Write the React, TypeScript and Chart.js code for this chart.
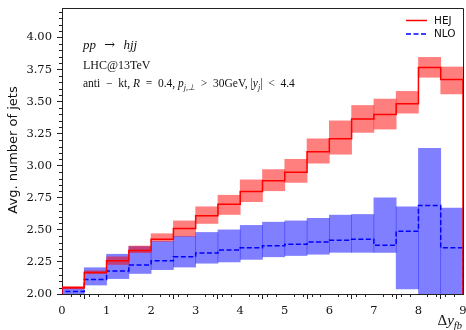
import { useEffect, useRef } from 'react';
import { Chart, registerables } from 'chart.js';

Chart.register(...registerables);

// Bin edges of Δy_fb
const binEdges = [0, 0.5, 1, 1.5, 2, 2.5, 3, 3.5, 4, 4.5, 5, 5.5, 6, 6.5, 7, 7.5, 8, 8.5, 9];

// HEJ central value and uncertainty band
const hej = [2.049, 2.167, 2.26, 2.34, 2.426, 2.51, 2.61, 2.70, 2.80, 2.883, 2.95, 3.11, 3.21, 3.364, 3.40, 3.483, 3.767, 3.673];
const hejLo = [2.04, 2.158, 2.23, 2.322, 2.41, 2.45, 2.55, 2.62, 2.72, 2.805, 2.87, 3.02, 3.09, 3.26, 3.286, 3.41, 3.69, 3.56];
const hejHi = [2.06, 2.18, 2.29, 2.374, 2.47, 2.57, 2.68, 2.77, 2.89, 2.97, 3.05, 3.21, 3.35, 3.47, 3.52, 3.58, 3.845, 3.77];

// NLO central value and uncertainty band
const nlo = [2.02, 2.113, 2.18, 2.226, 2.26, 2.29, 2.32, 2.343, 2.36, 2.377, 2.387, 2.405, 2.42, 2.426, 2.38, 2.49, 2.69, 2.36];
const nloLo = [2.0, 2.07, 2.12, 2.16, 2.19, 2.21, 2.24, 2.25, 2.27, 2.29, 2.30, 2.31, 2.325, 2.325, 2.325, 2.04, 1.9, 1.9];
const nloHi = [2.045, 2.205, 2.31, 2.37, 2.41, 2.45, 2.48, 2.50, 2.535, 2.56, 2.57, 2.59, 2.615, 2.62, 2.75, 2.68, 3.135, 2.67];

// Tick labels
const xTickValues = [0, 1, 2, 3, 4, 5, 6, 7, 8, 9];
const yTickValues = [2.0, 2.25, 2.5, 2.75, 3.0, 3.25, 3.5, 3.75, 4.0];
const xMinorStep = 0.2;
const yMinorStep = 0.05;

const SERIF = '"DejaVu Serif", serif';
const MATH = '"Liberation Serif", serif';
const SANS = '"DejaVu Sans", sans-serif';
const INK = '#111';
const AXIS = '#222';

type Seg = { t: string; it?: boolean; sub?: boolean; fam?: string };

function drawRich(ctx: CanvasRenderingContext2D, x: number, y: number, segs: Seg[], size: number, family: string, align: 'left' | 'right' = 'left') {
  const fontFor = (s: Seg) => `${s.it ? 'italic ' : ''}${s.sub ? size * 0.7 : size}px ${s.fam || family}`;
  let total = 0;
  for (const s of segs) {
    ctx.font = fontFor(s);
    total += ctx.measureText(s.t).width;
  }
  let cx = align === 'right' ? x - total : x;
  ctx.textAlign = 'left';
  ctx.textBaseline = 'alphabetic';
  for (const s of segs) {
    ctx.font = fontFor(s);
    ctx.fillText(s.t, cx, y + (s.sub ? size * 0.24 : 0));
    cx += ctx.measureText(s.t).width;
  }
}

const decorPlugin = {
  id: 'decor',
  afterDraw(chart: any) {
    const { ctx, chartArea } = chart;
    const { left, right, top, bottom } = chartArea;
    const xs = chart.scales.x;
    const ys = chart.scales.y;
    ctx.save();
    // frame top and right
    ctx.strokeStyle = AXIS;
    ctx.lineWidth = 1;
    ctx.beginPath();
    ctx.moveTo(Math.round(left), Math.round(top) + 0.5);
    ctx.lineTo(Math.round(right) + 0.5, Math.round(top) + 0.5);
    ctx.lineTo(Math.round(right) + 0.5, Math.round(bottom));
    ctx.stroke();
    // minor ticks
    ctx.beginPath();
    const nx = Math.round((xs.max - xs.min) / xMinorStep);
    for (let k = 0; k <= nx; k++) {
      if (k % 5 === 0) continue;
      const px = Math.round(xs.getPixelForValue(xs.min + k * xMinorStep)) + 0.5;
      ctx.moveTo(px, bottom);
      ctx.lineTo(px, bottom + 3);
    }
    const ny = Math.floor((ys.max - ys.min) / yMinorStep + 1e-6);
    for (let k = 0; k <= ny; k++) {
      if (k % 5 === 0) continue;
      const py = Math.round(ys.getPixelForValue(ys.min + k * yMinorStep)) + 0.5;
      ctx.moveTo(left, py);
      ctx.lineTo(left - 3, py);
    }
    ctx.stroke();

    // legend
    const items = chart.data.datasets.filter((d: any) => d.label);
    items.forEach((d: any, i: number) => {
      const y = top + 12.5 + i * 13.5;
      ctx.strokeStyle = d.borderColor;
      ctx.lineWidth = 1.5;
      ctx.setLineDash(d.borderDash || []);
      ctx.beginPath();
      ctx.moveTo(right - 57, y);
      ctx.lineTo(right - 36, y);
      ctx.stroke();
      ctx.setLineDash([]);
      ctx.fillStyle = INK;
      ctx.font = `10.5px ${SANS}`;
      ctx.textAlign = 'left';
      ctx.textBaseline = 'middle';
      ctx.fillText(d.label, right - 29, y + 0.5);
    });

    // annotations
    ctx.fillStyle = INK;
    const ax = left + 21;
    drawRich(ctx, ax, top + 41, [{ t: 'pp', it: true }, { t: '  →  ', fam: '"DejaVu Serif", serif' }, { t: 'hjj', it: true }], 13, MATH);
    drawRich(ctx, ax, top + 61, [{ t: 'LHC@13TeV' }], 12, MATH);
    drawRich(ctx, ax, top + 79, [
      { t: 'anti  −  kt, ' },
      { t: 'R', it: true },
      { t: '  =  0.4, ' },
      { t: 'p', it: true },
      { t: 'j,⊥', it: true, sub: true },
      { t: '  >  30GeV, |' },
      { t: 'y', it: true },
      { t: 'j', it: true, sub: true },
      { t: '|  <  4.4' },
    ], 11.5, MATH);

    // y label
    ctx.save();
    ctx.translate(14, (top + bottom) / 2 - 1);
    ctx.rotate(-Math.PI / 2);
    ctx.font = `13px ${SANS}`;
    ctx.textAlign = 'center';
    ctx.textBaseline = 'middle';
    ctx.fillStyle = INK;
    ctx.fillText('Avg. number of jets', 0, 0);
    ctx.restore();

    // x label
    drawRich(ctx, right - 1, 325, [{ t: 'Δ' }, { t: 'y', it: true }, { t: 'fb', it: true, sub: true }], 15, MATH, 'right');
    ctx.restore();
  },
};

function bandData(lo: number[], hi: number[]) {
  return lo.map((l, i) => ({ x: (binEdges[i] + binEdges[i + 1]) / 2, y: [l, hi[i]] }));
}

function stepData(v: number[]) {
  const pts: { x: number; y: number }[] = [{ x: binEdges[0], y: 0 }];
  v.forEach((val, i) => pts.push({ x: binEdges[i], y: val }));
  pts.push({ x: binEdges[binEdges.length - 1], y: v[v.length - 1] });
  pts.push({ x: binEdges[binEdges.length - 1], y: 0 });
  return pts;
}

export default function App() {
  const ref = useRef<HTMLCanvasElement | null>(null);
  useEffect(() => {
    document.body.style.margin = '0';
    const canvas = ref.current;
    if (!canvas) return;
    const chart = new Chart(canvas, {
      type: 'bar',
      data: {
        datasets: [
          {
            type: 'line',
            label: 'HEJ',
            data: stepData(hej),
            borderColor: '#ff0000',
            borderWidth: 1.5,
            stepped: true,
            pointRadius: 0,
            fill: false,
            order: 0,
          } as any,
          {
            type: 'line',
            label: 'NLO',
            data: stepData(nlo),
            borderColor: '#0000ff',
            borderWidth: 1.5,
            borderDash: [5, 2.5],
            stepped: true,
            pointRadius: 0,
            fill: false,
            order: 1,
          } as any,
          {
            type: 'bar',
            data: bandData(hejLo, hejHi),
            backgroundColor: 'rgba(255,0,0,0.5)',
            borderWidth: 0,
            grouped: false,
            categoryPercentage: 1,
            barPercentage: 1,
            order: 2,
          } as any,
          {
            type: 'bar',
            data: bandData(nloLo, nloHi),
            backgroundColor: 'rgba(0,0,255,0.5)',
            borderWidth: 0,
            grouped: false,
            categoryPercentage: 1,
            barPercentage: 1,
            order: 3,
          } as any,
        ],
      },
      options: {
        responsive: false,
        animation: false,
        devicePixelRatio: 1,
        layout: { padding: { top: 8, right: 3, left: 0, bottom: 0 } },
        plugins: { legend: { display: false }, tooltip: { enabled: false } },
        scales: {
          x: {
            type: 'linear',
            min: 0,
            max: 9,
            offset: false,
            grid: { drawOnChartArea: false, drawTicks: true, tickLength: 5, color: AXIS, tickWidth: 1 },
            border: { display: true, color: AXIS, width: 1 },
            ticks: { font: { family: SERIF, size: 11.5 }, color: INK, padding: 5, maxRotation: 0, autoSkip: false, includeBounds: false },
            afterBuildTicks: (s: any) => { s.ticks = xTickValues.map((v) => ({ value: v })); },
            afterFit: (s: any) => { s.height = 36; s.paddingLeft = 0; s.paddingRight = 0; },
          },
          y: {
            type: 'linear',
            min: 2,
            max: 4.23,
            grid: { drawOnChartArea: false, drawTicks: true, tickLength: 5, color: AXIS, tickWidth: 1 },
            border: { display: true, color: AXIS, width: 1 },
            ticks: { font: { family: SERIF, size: 11.5 }, color: INK, padding: 5, includeBounds: false, callback: (v: any) => Number(v).toFixed(2) },
            afterBuildTicks: (s: any) => { s.ticks = yTickValues.map((v) => ({ value: v })); },
            afterFit: (s: any) => { s.width = 62; s.paddingTop = 0; s.paddingBottom = 0; },
          },
        },
      } as any,
      plugins: [decorPlugin],
    });
    return () => chart.destroy();
  }, []);
  return <canvas ref={ref} width={466} height={330} style={{ display: 'block', width: 466, height: 330 }} />;
}
